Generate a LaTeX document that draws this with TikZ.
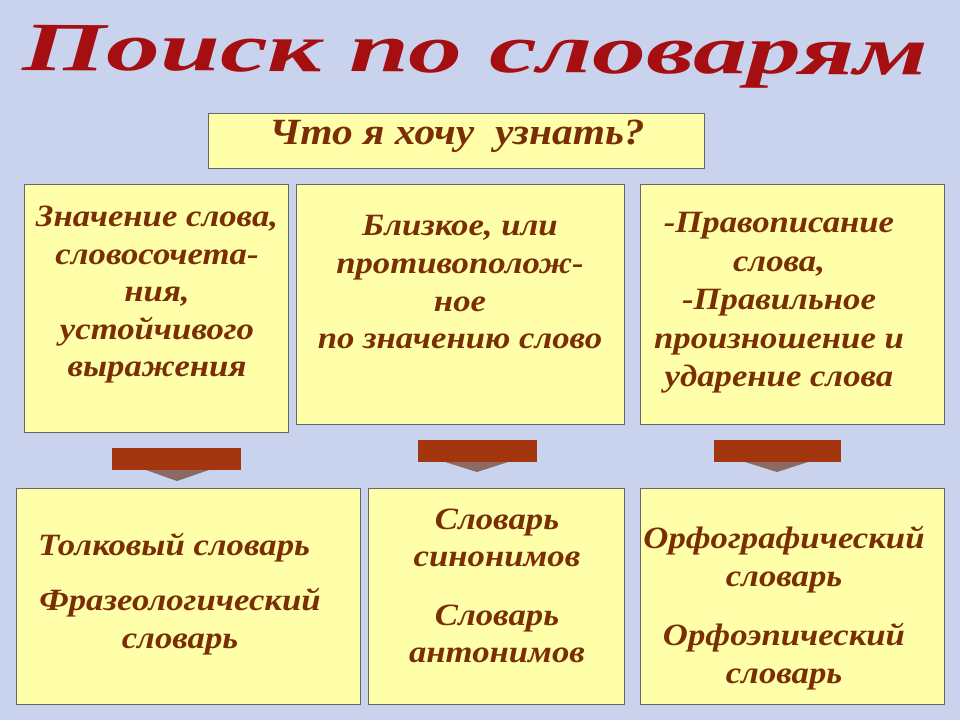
\documentclass[tikz,border=0pt]{standalone}
\usepackage{fontspec}
\setmainfont{Liberation Serif}
\newfontfamily\boxfont[FakeStretch=1.12]{Liberation Serif}
\definecolor{bgc}{HTML}{C9D3EE}
\definecolor{boxc}{HTML}{FFFFAA}
\definecolor{txtc}{HTML}{7A2E06}
\definecolor{titc}{HTML}{A50F12}
\definecolor{arrc}{HTML}{A3360F}
\definecolor{tipc}{HTML}{8A6A62}
\tikzset{
  x=1pt,y=-1pt,
  panel/.style={draw=gray!80!black,line width=0.8pt,fill=boxc},
  lbl/.style={text=txtc,font=\boxfont\fontsize{31}{37.5}\selectfont\bfseries\itshape,align=center,inner sep=0pt,anchor=north,
    execute at begin node={\rule{0pt}{22pt}}},
  arrbar/.style={fill=arrc,draw=none},
  arrtip/.style={fill=tipc,draw=none}
}
\begin{document}
\begin{tikzpicture}
\useasboundingbox (0,0) rectangle (960,720);
\fill[bgc] (0,0) rectangle (960,720);
% title
\node[text=titc,inner sep=0pt,rotate=-0.3,anchor=north] (title) at (476,27)
  {\resizebox*{905pt}{60pt}{\bfseries\itshape Поиск по словарям}};
% header
\draw[panel] (208,113) rectangle (704,168);
\node[lbl,anchor=base,font=\boxfont\fontsize{37}{40}\selectfont\bfseries\itshape] (q) at (457,144) {Что я хочу\ \ узнать?};
% top boxes
\draw[panel] (24,184) rectangle (288,432);
\draw[panel] (296,184) rectangle (624,424);
\draw[panel] (640,184) rectangle (944,424);
\node[lbl] (t1) at (157,206) {Значение слова,\\словосочета-\\ния,\\устойчивого\\выражения};
\node[lbl,font=\boxfont\fontsize{31}{37.8}\selectfont\bfseries\itshape] (t2) at (460,215) {Близкое, или\\противополож-\\ное\\по значению слово};
\node[lbl,font=\boxfont\fontsize{31}{38.5}\selectfont\bfseries\itshape] (t3) at (779,212) {-Правописание\\слова,\\-Правильное\\произношение и\\ударение слова};
% arrows
\fill[arrbar] (112,448) rectangle (241,470);
\fill[arrtip] (146,470) -- (209,470) -- (177,481) -- cycle;
\fill[arrbar] (418,440) rectangle (537,462);
\fill[arrtip] (445,462) -- (508,462) -- (477,472) -- cycle;
\fill[arrbar] (714,440) rectangle (841,462);
\fill[arrtip] (745,462) -- (808,462) -- (777,472) -- cycle;
% bottom boxes
\draw[panel] (16,488) rectangle (360,704);
\draw[panel] (368,488) rectangle (624,704);
\draw[panel] (640,488) rectangle (944,704);
\node[lbl] (b1a) at (174,533) {Толковый словарь};
\node[lbl] (b1b) at (180,588) {Фразеологический\\словарь};
\node[lbl,font=\boxfont\fontsize{31}{37}\selectfont\bfseries\itshape] (b2) at (497,509) {Словарь\\синонимов};
\node[lbl,font=\boxfont\fontsize{31}{37}\selectfont\bfseries\itshape] (b2b) at (497,605) {Словарь\\антонимов};
\node[lbl,font=\boxfont\fontsize{31}{38}\selectfont\bfseries\itshape] (b3) at (784,526) {Орфографический\\словарь};
\node[lbl,font=\boxfont\fontsize{31}{38}\selectfont\bfseries\itshape] (b3b) at (784,623) {Орфоэпический\\словарь};
\end{tikzpicture}
\end{document}
